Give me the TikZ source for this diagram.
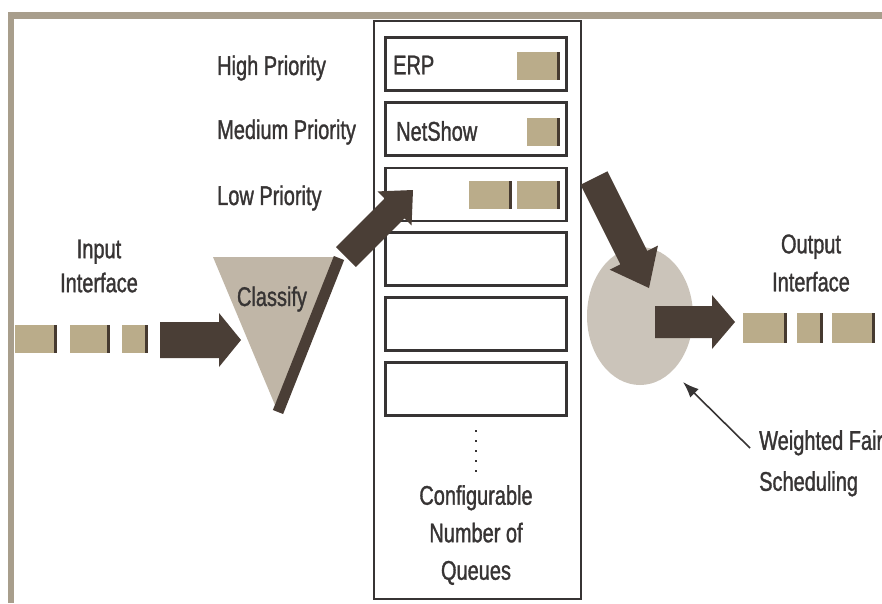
\documentclass[tikz,border=0pt]{standalone}
\usepackage{fontspec}
\setmainfont[FakeStretch=0.74,FakeBold=1.2]{Liberation Sans}
\usetikzlibrary{calc,shapes.geometric,arrows.meta}
\definecolor{framegray}{RGB}{168,158,140}
\definecolor{inkgray}{RGB}{55,52,52}
\definecolor{arrowdark}{RGB}{74,62,54}
\definecolor{shadelight}{RGB}{192,182,167}
\definecolor{discgray}{RGB}{203,196,186}
\definecolor{packettan}{RGB}{186,172,138}
\definecolor{packetedge}{RGB}{70,58,48}

% fat block arrow: tail, tip, half body width, half head width, head length
\newcommand\blockarrow[5]{%
  \coordinate (#2-base) at ($(#2)!#5!(#1)$);
  \fill[arrowdark] ($(#1)!#3!90:(#2)$) -- ($(#2-base)!#3!-90:(#1)$)
    -- ($(#2-base)!#4!-90:(#1)$) -- (#2) -- ($(#2-base)!#4!90:(#1)$)
    -- ($(#2-base)!#3!90:(#1)$) -- ($(#1)!#3!-90:(#2)$) -- cycle;
}

\tikzset{
  lbl/.style={text=inkgray, font=\fontsize{27}{36}\selectfont, inner sep=0},
  queuebox/.style={draw=inkgray, line width=2.2, minimum width=181, minimum height=53, inner sep=0},
  packet/.style={fill=packettan, minimum height=28, inner sep=0,
    path picture={\fill[packetedge] ([xshift=-3]path picture bounding box.north east)
      rectangle (path picture bounding box.south east);}},
}

\begin{document}
\begin{tikzpicture}[x=1pt,y=-1pt]
\useasboundingbox (0,0) rectangle (882,603);
\fill[white] (0,0) rectangle (882,603);

% outer frame
\fill[framegray] (8,12) rectangle (882,19);
\fill[framegray] (8,12) rectangle (14,603);

% queue column
\draw[inkgray, line width=2.5] (374,21) rectangle (581,599);
\node[queuebox] (q1) at (476,64) {};
\node[queuebox] (q2) at (476,129) {};
\node[queuebox] (q3) at (476,194.5) {};
\node[queuebox] (q4) at (476,259) {};
\node[queuebox] (q5) at (476,324) {};
\node[queuebox] (q6) at (476,389) {};

\node[lbl, anchor=west] (erp) at (393,65) {ERP};
\node[lbl, anchor=west] (netshow) at (396,131) {NetShow};

\node[packet, minimum width=43] (qp1) at (538.5,66) {};
\node[packet, minimum width=33] (qp2) at (543.5,132) {};
\node[packet, minimum width=43] (qp3) at (490.5,195) {};
\node[packet, minimum width=43] (qp4) at (538.5,195) {};

% priority labels
\node[lbl, anchor=west] (hi) at (217,68) {High Priority};
\node[lbl, anchor=west] (med) at (217,132) {Medium Priority};
\node[lbl, anchor=west] (low) at (217,198) {Low Priority};

% more queues
\coordinate (dotstop) at (476,430);
\coordinate (dotsbot) at (476,472);
\draw[inkgray, line width=2, dash pattern=on 2 off 8] (dotstop) -- (dotsbot);
\node[lbl, align=center, font=\fontsize{27}{37.5}\selectfont] (cfg) at (476,535)
  {Configurable\\Number of\\Queues};

% input side
\node[lbl, align=center, font=\fontsize{27}{34}\selectfont] (inlbl) at (99,266) {Input\\Interface};
\node[packet, minimum width=42] (in1) at (36,339) {};
\node[packet, minimum width=40] (in2) at (90,339) {};
\node[packet, minimum width=26] (in3) at (135,339) {};
\coordinate (inA) at (160,340);
\coordinate (inB) at (241,340);
\blockarrow{inA}{inB}{18pt}{27pt}{22pt}

% classifier
\coordinate (t1) at (213,257);
\coordinate (t2) at (336,257);
\coordinate (t3) at (275,405);
\fill[shadelight] (t1) -- (t2) -- (t3) -- cycle;
\coordinate (sh1) at (339,258);
\coordinate (sh2) at (278,412);
\draw[arrowdark, line width=11] (sh1) -- (sh2);
\node[lbl] (cls) at (272,299) {Classify};

\coordinate (clA) at (346,257);
\coordinate (clB) at (413,190);
\blockarrow{clA}{clB}{14pt}{24pt}{26pt}

% scheduler
\node[ellipse, fill=discgray, minimum width=106, minimum height=138, inner sep=0] (wfs) at (640,316) {};
\coordinate (dnA) at (594,178);
\coordinate (dnB) at (649,288);
\blockarrow{dnA}{dnB}{15pt}{27pt}{34pt}

\coordinate (outA) at (655,322);
\coordinate (outB) at (735,322);
\blockarrow{outA}{outB}{16pt}{27pt}{23pt}

\node[lbl, align=center, font=\fontsize{27}{38}\selectfont] (outlbl) at (811,263) {Output\\Interface};
\node[packet, minimum width=44, minimum height=30] (op1) at (765,328) {};
\node[packet, minimum width=26, minimum height=30] (op2) at (810,328) {};
\node[packet, minimum width=43, minimum height=30] (op3) at (853.5,328) {};

% weighted fair scheduling pointer
\node[lbl, align=left, anchor=north west, font=\fontsize{27}{41}\selectfont] (wfslbl) at (759,430) {Weighted Fair\\Scheduling};
\coordinate (ptrA) at (750,448);
\coordinate (ptrB) at (683,382);
\draw[inkgray, line width=1.6, -{Latex[length=16,width=12]}] (ptrA) -- (ptrB);
\end{tikzpicture}
\end{document}
